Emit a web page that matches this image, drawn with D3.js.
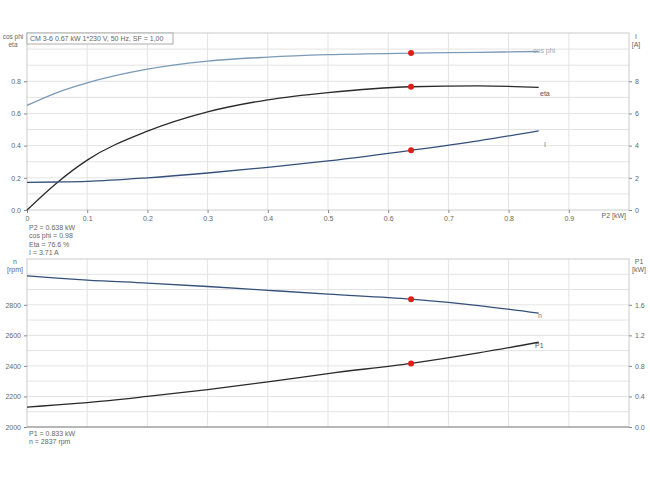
<!DOCTYPE html>
<html><head><meta charset="utf-8">
<script src="https://cdn.jsdelivr.net/npm/d3@7"></script>
<style>
body{margin:0;background:#fff;font-family:"Liberation Sans",Arial,sans-serif;}
text{font-size:7px;fill:#666;}
.grid line{stroke:#e3e3e3;stroke-width:1;}
.axis path,.axis line{stroke:#888;}
</style></head><body>
<script>
// P2 [kW] sample points
var p2 = [0, 0.05, 0.1, 0.2, 0.3, 0.4, 0.5, 0.638, 0.75, 0.85];
var cosphi = [0.65, 0.73, 0.79, 0.875, 0.925, 0.95, 0.965, 0.975, 0.98, 0.985];
var eta = [0, 0.17, 0.31, 0.49, 0.61, 0.685, 0.73, 0.766, 0.772, 0.762];
var amps = [1.72, 1.74, 1.78, 2.0, 2.3, 2.65, 3.05, 3.71, 4.3, 4.92];
var rpm = [2990, 2975, 2962, 2942, 2920, 2895, 2870, 2837, 2795, 2745];
var p1 = [0.26, 0.29, 0.32, 0.4, 0.49, 0.59, 0.7, 0.833, 0.97, 1.11];
var opIndex = 7;
var infoTop = ["P2 = 0.638 kW", "cos phi = 0.98", "Eta = 76.6 %", "I = 3.71 A"];
var infoBottom = ["P1 = 0.833 kW", "n = 2837 rpm"];

var W = 650, H = 487;
var svg = d3.select("body").append("svg").attr("width", W).attr("height", H);
var x = d3.scaleLinear().domain([0, 1]).range([27, 629]);

// top panel
var yL = d3.scaleLinear().domain([0, 1.1]).range([210, 33]);
var yR = d3.scaleLinear().domain([0, 11]).range([210, 33]);
// bottom panel
var yN = d3.scaleLinear().domain([2000, 3100]).range([427, 259]);
var yP = d3.scaleLinear().domain([0, 2.2]).range([427, 259]);

function panel(yl, y0, y1, hticks) {
  var g = svg.append("g").attr("class", "grid");
  g.selectAll(".v").data(d3.range(0.1, 1.0, 0.1)).enter().append("line")
    .attr("x1", x).attr("x2", x).attr("y1", y0).attr("y2", y1);
  g.selectAll(".h").data(hticks).enter().append("line")
    .attr("x1", 27).attr("x2", 629).attr("y1", yl).attr("y2", yl);
  svg.append("rect").attr("x", 27).attr("y", y1).attr("width", 602).attr("height", y0 - y1)
    .attr("fill", "none").attr("stroke", "#ccc");
}
panel(yL, 210, 33, d3.range(0.1, 1.1, 0.1));
panel(yN, 427, 259, d3.range(2100, 3100, 100));

svg.append("g").attr("class", "axis").attr("transform", "translate(27,0)")
  .call(d3.axisLeft(yL).tickValues([0, 0.2, 0.4, 0.6, 0.8]).tickFormat(d3.format(".1f")).tickSize(3));
svg.append("g").attr("class", "axis").attr("transform", "translate(629,0)")
  .call(d3.axisRight(yR).tickValues([0, 2, 4, 6, 8]).tickSize(3));
svg.append("g").attr("class", "axis").attr("transform", "translate(0,210)")
  .call(d3.axisBottom(x).tickValues(d3.range(0, 0.95, 0.1)).tickFormat(function(d){return d==0?"0":d3.format(".1f")(d);}).tickSize(3));
svg.append("g").attr("class", "axis").attr("transform", "translate(27,0)")
  .call(d3.axisLeft(yN).tickValues([2000, 2200, 2400, 2600, 2800]).tickFormat(d3.format("d")).tickSize(3));
svg.append("g").attr("class", "axis").attr("transform", "translate(629,0)")
  .call(d3.axisRight(yP).tickValues([0, 0.4, 0.8, 1.2, 1.6]).tickFormat(d3.format(".1f")).tickSize(3));
svg.append("line").attr("x1", 27).attr("x2", 629).attr("y1", 427).attr("y2", 427).attr("stroke", "#888");
svg.selectAll(".axis .domain").remove();
svg.selectAll(".axis text").style("font-size", "7px").style("fill", "#666");

function curve(vals, ys, color, label, lcolor, lx, ly) {
  var pts = p2.map(function(d, i) { return [x(d), ys(vals[i])]; });
  svg.append("path").attr("d", d3.line().curve(d3.curveMonotoneX)(pts))
    .attr("fill", "none").attr("stroke", color).attr("stroke-width", 1.3);
  svg.append("circle").attr("cx", x(p2[opIndex])).attr("cy", ys(vals[opIndex])).attr("r", 3).attr("fill", "#e31b1b");
  svg.append("text").attr("x", lx).attr("y", ly).text(label).style("fill", lcolor);
}
curve(cosphi, yL, "#7b9ab8", "cos phi", "#9ab", 533, 53);
curve(eta, yL, "#2a2a2a", "eta", "#555", 540, 96);
curve(amps, yR, "#34507a", "I", "#777", 544, 147);
curve(rpm, yN, "#34507a", "n", "#777", 538, 318);
curve(p1, yP, "#2a2a2a", "P1", "#555", 535, 348);

function txt(s, xx, yy, anchor, size) {
  svg.append("text").attr("x", xx).attr("y", yy).attr("text-anchor", anchor || "start")
    .style("font-size", (size || 7) + "px").text(s);
}
txt("cos phi", 13, 39, "middle", 6.5); txt("eta", 13, 47, "middle", 6.5);
txt("I", 636, 39, "middle"); txt("[A]", 636, 47, "middle");
txt("P2 [kW]", 626, 218, "end");
txt("n", 15, 264, "middle"); txt("[rpm]", 15, 272, "middle");
txt("P1", 639, 264, "middle"); txt("[kW]", 639, 272, "middle");
infoTop.forEach(function(s, i) { txt(s, 29, 230 + i * 8.3); });
infoBottom.forEach(function(s, i) { txt(s, 29, 436 + i * 8.3); });

svg.append("rect").attr("x", 27).attr("y", 33).attr("width", 146).attr("height", 11)
  .attr("fill", "#fff").attr("stroke", "#aaa");
txt("CM 3-6   0.67 kW   1*230 V, 50 Hz, SF = 1,00", 30, 41);
</script></body></html>
